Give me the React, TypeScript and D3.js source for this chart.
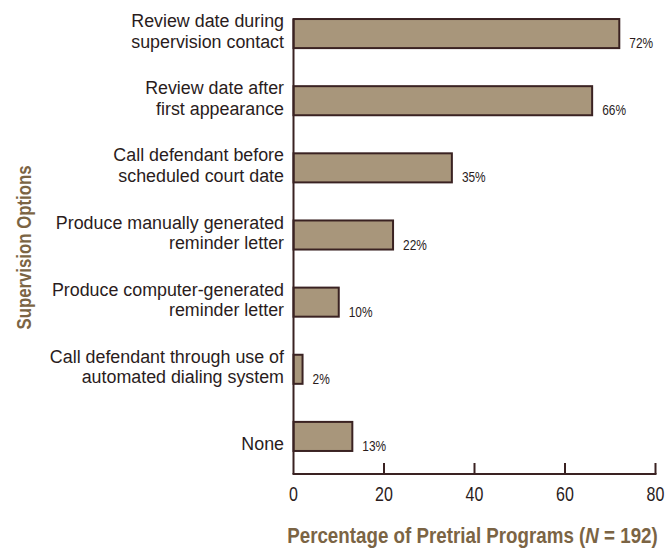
import React from "react";
import * as d3 from "d3";

const categories: string[][] = [
  ["Review date during", "supervision contact"],
  ["Review date after", "first appearance"],
  ["Call defendant before", "scheduled court date"],
  ["Produce manually generated", "reminder letter"],
  ["Produce computer-generated", "reminder letter"],
  ["Call defendant through use of", "automated dialing system"],
  ["None"],
];
const values: number[] = [72, 66, 35, 22, 10, 2, 13];
const valueLabels: string[] = ["72%", "66%", "35%", "22%", "10%", "2%", "13%"];
const xTicks: number[] = [0, 20, 40, 60, 80];

const W = 668;
const H = 550;
const FONT = "'Liberation Sans', Arial, sans-serif";
const TEXT = "#2a1c1c";
const TITLE = "#7b6444";
const DARK = "#3a2222";

export default function App() {
  const x = d3.scaleLinear().domain([0, 80]).range([293.5, 655.5]);
  const keys = categories.map((_, i) => String(i));
  const y = d3.scaleBand<string>().domain(keys).range([-4, 474]).paddingInner(0.567).paddingOuter(0.343);
  const bh = y.bandwidth();
  const axisY = 474;
  return (
    <svg width={W} height={H} style={{ position: "absolute", left: 0, top: 0, background: "#fff" }} fontFamily={FONT}>
      {values.map((v, i) => {
        const yy = y(String(i))!;
        const n = categories[i].length;
        return (
          <g key={i}>
            <rect x={x(0)} y={yy} width={x(v) - x(0)} height={bh} fill="#a8967b" stroke={DARK} strokeWidth={2} />
            <text transform={`translate(${x(v) + 10},${yy + bh}) scale(0.85,1)`} fontSize={14} fill={TEXT}>{valueLabels[i]}</text>
            {categories[i].map((line, j) => (
              <text key={j} transform={`translate(284,${yy + bh - 0.5 - (n - 1 - j) * 20.5}) scale(0.94,1)`} textAnchor="end" fontSize={19} fill={TEXT}>
                {line}
              </text>
            ))}
          </g>
        );
      })}
      <line x1={x(0)} x2={x(0)} y1={y("0")!} y2={axisY} stroke={DARK} strokeWidth={2} />
      <line x1={x(0) - 1} x2={x(80) + 1} y1={axisY} y2={axisY} stroke={DARK} strokeWidth={2} />
      {xTicks.map((t) => (
        <g key={t}>
          {t > 0 && <line x1={x(t)} x2={x(t)} y1={axisY - 11} y2={axisY} stroke={DARK} strokeWidth={2} />}
          <text transform={`translate(${x(t)},${axisY + 27}) scale(0.8,1)`} textAnchor="middle" fontSize={20} fill={TEXT}>{t}</text>
        </g>
      ))}
      <text transform={`translate(472.5,543) scale(0.853,1)`} textAnchor="middle" fontSize={22} fontWeight="bold" fill={TITLE}>
        Percentage of Pretrial Programs (<tspan fontStyle="italic">N</tspan> = 192)
      </text>
      <text transform={`translate(31,247.5) rotate(-90) scale(0.84,1)`} textAnchor="middle" fontSize={20} fontWeight="bold" fill={TITLE}>
        Supervision Options
      </text>
    </svg>
  );
}
